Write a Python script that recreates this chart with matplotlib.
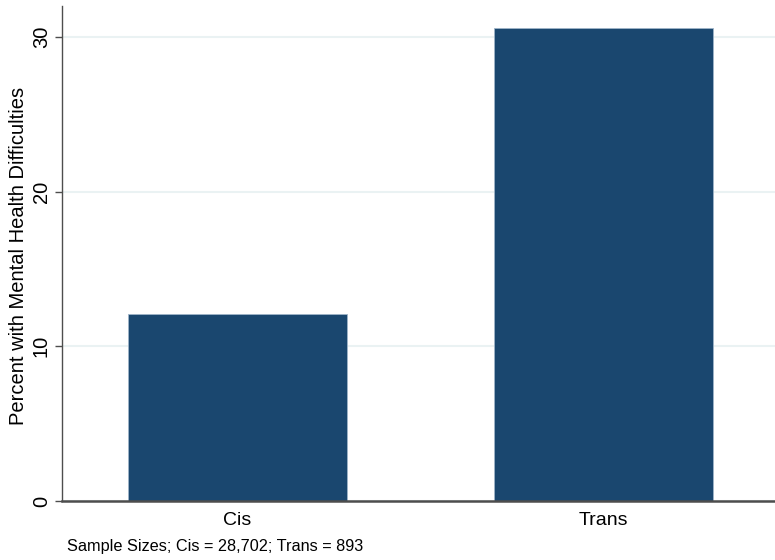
import numpy as np
import matplotlib
matplotlib.use("Agg")
import matplotlib.pyplot as plt

# Data
groups = ["Cis", "Trans"]
percent = [12.1, 30.6]
y_ticks = [0, 10, 20, 30]
note = "Sample Sizes; Cis = 28,702; Trans = 893"

# Style (Stata s2color-ish)
BAR_COLOR = "#1a476f"
GRID_COLOR = "#eaf2f3"
AXIS_COLOR = "#4d4d4d"

plt.rcParams["font.family"] = ["Liberation Sans", "DejaVu Sans"]

fig = plt.figure(figsize=(7.75, 5.6), dpi=100)
ax = fig.add_axes([62 / 775, 59 / 560, 713 / 775, 495 / 560])

x = np.arange(len(groups))
ax.bar(x, percent, width=0.6, color=BAR_COLOR, edgecolor="#9fb4c8",
       linewidth=0.6, zorder=3)

ax.set_xlim(-0.4795, 1.4686)
ax.set_ylim(0, 32)

# Grid
ax.set_yticks(y_ticks)
ax.yaxis.grid(True, color=GRID_COLOR, linewidth=1.5, zorder=0)
ax.set_axisbelow(True)

# Spines
for side in ["top", "right"]:
    ax.spines[side].set_visible(False)
ax.spines["left"].set_color(AXIS_COLOR)
ax.spines["left"].set_linewidth(1.0)
ax.spines["bottom"].set_color(AXIS_COLOR)
ax.spines["bottom"].set_linewidth(1.8)
ax.spines["bottom"].set_zorder(4)

# Ticks
ax.set_xticks(x)
ax.set_xticklabels(groups, fontsize=14)
ax.tick_params(axis="x", length=0, pad=8)
ax.tick_params(axis="y", length=5, width=1.0, color=AXIS_COLOR,
               labelsize=14.5, pad=3, labelrotation=90)
for lbl in ax.get_yticklabels():
    lbl.set_va("center")

ax.set_ylabel("Percent with Mental Health Difficulties", fontsize=14.5)
ax.yaxis.set_label_coords(-0.048, 0.495)

fig.text(67 / 775, 1 - 547 / 560, note, fontsize=11.7, va="center", ha="left")

fig.savefig("out.png", dpi=100)
